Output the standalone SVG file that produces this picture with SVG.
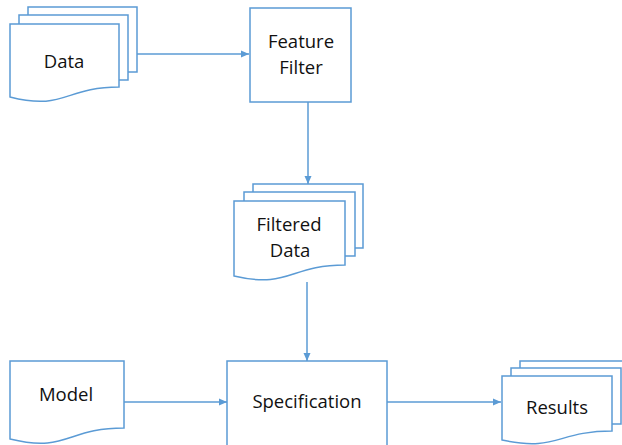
<svg xmlns="http://www.w3.org/2000/svg" width="622" height="445" viewBox="0 0 622 445">
<defs>
<style>
.s{fill:#fff;stroke:#5b9bd5;stroke-width:1.5;stroke-linejoin:miter}
.c{fill:none;stroke:#5b9bd5;stroke-width:1.5}
.t{font-family:"Open Sans","Liberation Sans",sans-serif;font-size:18.5px;fill:#111;text-anchor:middle}
</style>
<marker id="a" viewBox="0 0 8 8" refX="8" refY="4" markerWidth="8" markerHeight="8" markerUnits="userSpaceOnUse" orient="auto">
<path d="M0,0.5 L8,4 L0,7.5 Z" fill="#5b9bd5"/>
</marker>
</defs>
<rect width="622" height="445" fill="#fff"/>
<g id="connectors">
<line class="c" x1="137" y1="54" x2="249" y2="54" marker-end="url(#a)"/>
<line class="c" x1="308" y1="102" x2="308" y2="184" marker-end="url(#a)"/>
<line class="c" x1="307" y1="282" x2="307" y2="361" marker-end="url(#a)"/>
<line class="c" x1="124" y1="402" x2="227" y2="402" marker-end="url(#a)"/>
<line class="c" x1="387" y1="402" x2="501" y2="402" marker-end="url(#a)"/>
</g>
<g id="data">
<path class="s" d="M28,15 V7 H137 V72 H128"/>
<path class="s" d="M19,24 V15 H128 V80 H119"/>
<path class="s" d="M10,24 H119 V87 C64.5,87 64.5,111 10,97 Z"/>
<text class="t" x="64" y="68">Data</text>
</g>
<g id="feature-filter">
<rect class="s" x="250" y="8" width="101" height="94"/>
<text class="t" x="301" y="48">Feature</text>
<text class="t" x="301" y="74">Filter</text>
</g>
<g id="filtered-data">
<path class="s" d="M253,192 V184 H363 V248 H355"/>
<path class="s" d="M244,201 V192 H355 V256 H345"/>
<path class="s" d="M234,201 H345 V265 C289.5,265 289.5,289 234,276 Z"/>
<text class="t" x="289" y="231">Filtered</text>
<text class="t" x="290" y="257">Data</text>
</g>
<g id="model">
<path class="s" d="M10,361 H124 V428 C67,428 67,453 10,439 Z"/>
<text class="t" x="66" y="401">Model</text>
</g>
<g id="specification">
<rect class="s" x="227" y="361" width="160" height="90"/>
<text class="t" x="307" y="408">Specification</text>
</g>
<g id="results">
<path class="s" d="M520,368 V361 H640 V415"/>
<path class="s" d="M511,376 V368 H621 V424 H612"/>
<path class="s" d="M502,376 H612 V431 C557,431 557,452 502,440 Z"/>
<text class="t" x="557" y="414">Results</text>
</g>
</svg>
